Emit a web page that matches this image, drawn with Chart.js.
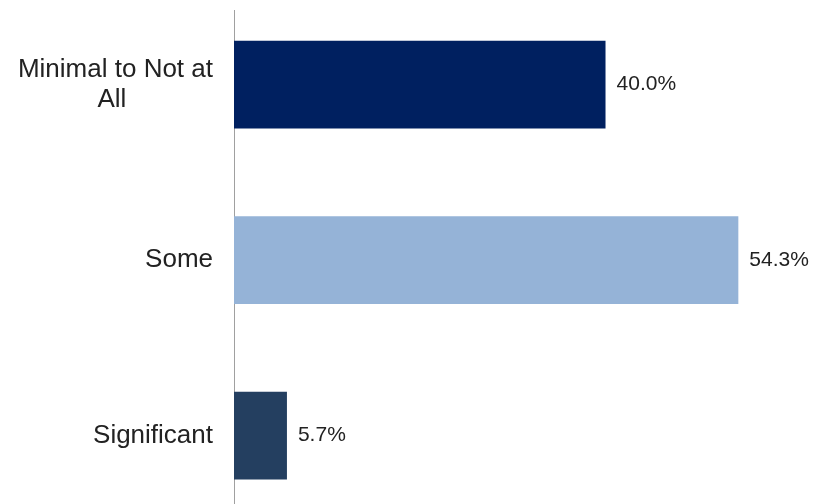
<!DOCTYPE html>
<html>
<head>
<meta charset="utf-8">
<script src="https://cdn.jsdelivr.net/npm/chart.js@4"></script>
<style>
  html, body { margin: 0; padding: 0; background: #fff; }
  canvas { display: block; }
</style>
</head>
<body>
<canvas id="chart" width="821" height="504"></canvas>
<script>
// categories, top to bottom
const categories = [
    ['Minimal to Not at', 'All\u00a0\u00a0\u00a0\u00a0\u00a0\u00a0\u00a0\u00a0\u00a0\u00a0\u00a0\u00a0'],
    'Some',
    'Significant'
];
const shares = [40.0, 54.3, 5.7];
const barColors = ['#002060', '#95b3d7', '#243f60'];

// value labels to the right of each bar
const valueLabels = {
    id: 'valueLabels',
    afterDatasetsDraw(chart) {
        const ctx = chart.ctx;
        const meta = chart.getDatasetMeta(0);
        ctx.save();
        ctx.font = '21px "Liberation Sans", Arial, sans-serif';
        ctx.fillStyle = '#222';
        ctx.textAlign = 'left';
        ctx.textBaseline = 'middle';
        meta.data.forEach((bar, i) => {
            ctx.fillText(shares[i].toFixed(1) + '%', bar.x + 11, bar.y);
        });
        ctx.restore();
    }
};

const ctx = document.getElementById('chart').getContext('2d');
new Chart(ctx, {
    type: 'bar',
    data: {
        datasets: [{
            data: shares.map((v, i) => ({ x: v, y: i })),
            backgroundColor: barColors,
            borderWidth: 0,
            categoryPercentage: 1,
            barPercentage: 0.5
        }]
    },
    options: {
        indexAxis: 'y',
        responsive: false,
        animation: false,
        layout: { padding: { top: 10, right: 0, bottom: 0, left: 0 } },
        plugins: {
            legend: { display: false },
            tooltip: { enabled: false }
        },
        scales: {
            x: {
                type: 'linear',
                display: false,
                min: 0,
                max: 63.2
            },
            y: {
                type: 'linear',
                offset: false,
                reverse: true,
                min: -0.425,
                max: 2.39,
                grid: { display: false, drawTicks: false },
                border: { display: true, color: '#a0a0a0', width: 1 },
                afterBuildTicks: (scale) => {
                    scale.ticks = categories.map((_, i) => ({ value: i }));
                },
                afterFit: (scale) => {
                    scale.width = 234;
                    scale.paddingTop = 0;
                    scale.paddingBottom = 0;
                },
                ticks: {
                    padding: 21,
                    color: '#222',
                    font: { family: '"Liberation Sans", Arial, sans-serif', size: 26, lineHeight: 1.15 },
                    callback: (value) => categories[value]
                }
            }
        }
    },
    plugins: [valueLabels]
});
</script>
</body>
</html>
